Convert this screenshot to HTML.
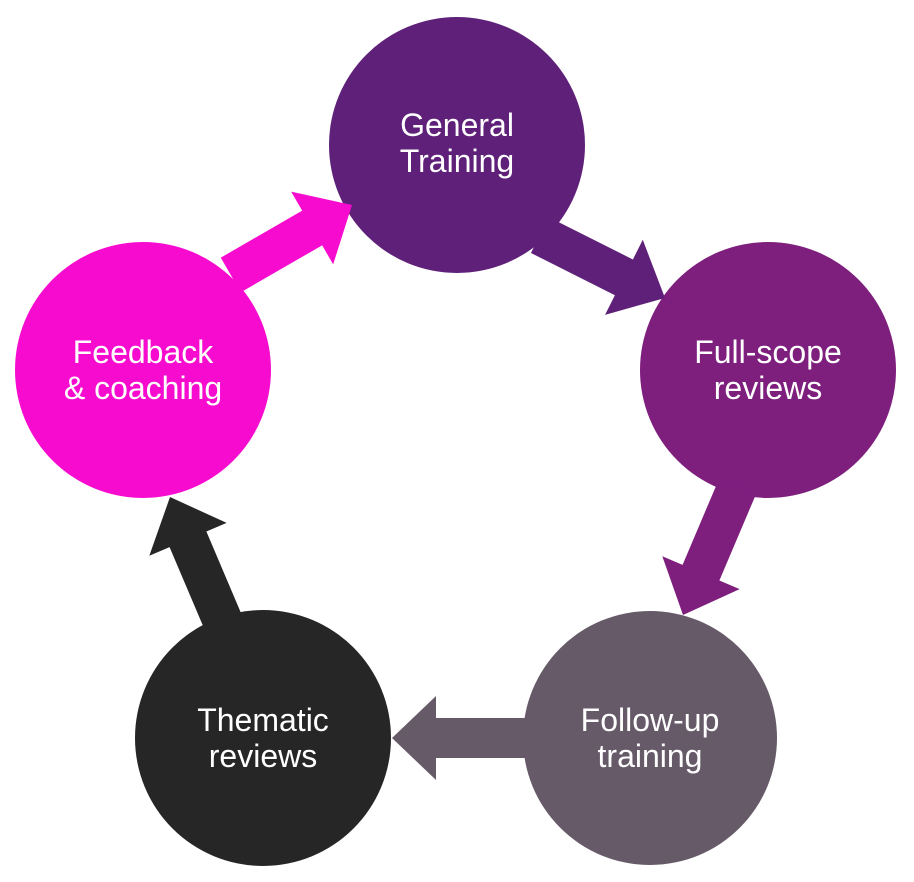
<!DOCTYPE html>
<html><head><meta charset="utf-8"><style>
html,body{margin:0;padding:0;background:#fff;}
svg{display:block;}
text{font-family:"Liberation Sans",sans-serif;font-size:32px;fill:#fff;text-anchor:middle;}
</style></head><body>
<svg width="914" height="882" viewBox="0 0 914 882">
<defs>
<polygon id="ar" points="0,0 -46,-42 -46,-20 -140,-20 -140,20 -46,20 -46,42"/>
</defs>
<circle cx="457" cy="145" r="128" fill="#5f2079"/>
<circle cx="768" cy="370" r="128" fill="#7e1f7e"/>
<circle cx="650" cy="738" r="127" fill="#665a68"/>
<circle cx="263" cy="738" r="128" fill="#262626"/>
<circle cx="143" cy="370" r="128" fill="#f70ccf"/>
<use href="#ar" fill="#5f2079" transform="translate(665,298) rotate(26.7)"/>
<use href="#ar" fill="#7e1f7e" transform="translate(683,615) rotate(113)"/>
<g transform="translate(392,738) rotate(180)"><polygon fill="#665a68" points="0,0 -44,-42 -44,-20 -135,-20 -135,20 -44,20 -44,42"/></g>
<use href="#ar" fill="#262626" transform="translate(170,497) rotate(-113)"/>
<use href="#ar" fill="#f70ccf" transform="translate(352,205) rotate(-30)"/>
<text x="457" y="136">General</text><text x="457" y="172">Training</text>
<text x="768" y="363">Full-scope</text><text x="768" y="399">reviews</text>
<text x="650" y="731">Follow-up</text><text x="650" y="767">training</text>
<text x="263" y="731">Thematic</text><text x="263" y="767">reviews</text>
<text x="143" y="363">Feedback</text><text x="143" y="399">&amp; coaching</text>
</svg>
</body></html>
